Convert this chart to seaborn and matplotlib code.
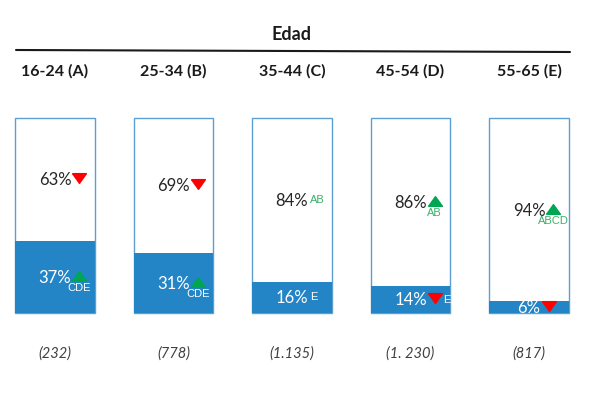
import matplotlib
matplotlib.use("Agg")
import matplotlib.pyplot as plt
import matplotlib.transforms as mtransforms
from matplotlib.lines import Line2D
import seaborn as sns

sns.set_theme(style="white")
plt.rcParams["font.family"] = ["Lato", "DejaVu Sans"]

# datos
grupos = ["16-24 (A)", "25-34 (B)", "35-44 (C)", "45-54 (D)", "55-65 (E)"]
bases = ["(232)", "(778)", "(1.135)", "(1. 230)", "(817)"]
pct_alto = [63, 69, 84, 86, 94]
pct_bajo = [37, 31, 16, 14, 6]
flechas_alto = ["down", "down", None, "up", "up"]
letras_alto = ["", "", "AB", "AB", "ABCD"]
flechas_bajo = ["up", "up", None, "down", "down"]
letras_bajo = ["CDE", "CDE", "E", "E", ""]

AZUL = "#2384c6"
BORDE = "#5d9fd3"
VERDE = "#00a651"
VERDE_TXT = "#3cb06a"
ROJO = "#ff0000"
TEXTO = "#262626"

TRI_UP = [(-1, -0.7), (1, -0.7), (0, 0.7), (-1, -0.7)]
TRI_DOWN = [(-1, 0.7), (1, 0.7), (0, -0.7), (-1, 0.7)]

fig = plt.figure(figsize=(6.13, 4.07), dpi=100)
ax = fig.add_axes([15 / 613, 94 / 407, 554 / 613, 195 / 407])

totales = [a + b for a, b in zip(pct_alto, pct_bajo)]
sns.barplot(x=grupos, y=totales, color="white", edgecolor=BORDE, linewidth=1,
            width=0.675, saturation=1, ax=ax)
sns.barplot(x=grupos, y=pct_bajo, color=AZUL, linewidth=0,
            width=0.675, saturation=1, ax=ax)
for p in ax.patches:
    p.set_clip_on(False)

ax.set_xlim(-0.3375, 4.3375)
ax.set_ylim(0, 100)
ax.axis("off")

renderer = fig.canvas.get_renderer()
inv = ax.transData.inverted()


def etiqueta(i, y, valor, color_txt, flecha, letras, color_letras):
    trans = mtransforms.offset_copy(ax.transData, fig=fig, y=-6, units="dots")
    t = ax.text(i, y, f"{valor}%", transform=trans, ha="center", va="baseline",
                fontsize=12, color=color_txt)
    bb = t.get_window_extent(renderer=renderer)
    cx, cy = ax.transData.transform((i, y))
    if flecha:
        mx, my = bb.x1 + 8, cy + 1
        ax.plot(*inv.transform((mx, my)), marker=TRI_UP if flecha == "up" else TRI_DOWN,
                ms=10, color=VERDE if flecha == "up" else ROJO, clip_on=False)
        if letras and flecha == "up":
            ax.text(*inv.transform((mx, my - 12)), letras, ha="center", va="center",
                    fontsize=8, family="Liberation Sans", color=color_letras)
        elif letras:
            ax.text(*inv.transform((mx + 8, my - 2)), letras, ha="left", va="center",
                    fontsize=8, family="Liberation Sans", color=color_letras)
    elif letras:
        ax.text(*inv.transform((bb.x1 + 2, cy)), letras, ha="left", va="center",
                fontsize=8, family="Liberation Sans", color=color_letras)


for i in range(len(grupos)):
    etiqueta(i, pct_bajo[i] + pct_alto[i] / 2, pct_alto[i], TEXTO,
             flechas_alto[i], letras_alto[i], VERDE_TXT)
    etiqueta(i, pct_bajo[i] / 2, pct_bajo[i], "white",
             flechas_bajo[i], letras_bajo[i], "white")

# encabezados y bases
mix = mtransforms.blended_transform_factory(ax.transData, fig.transFigure)
for i, g in enumerate(grupos):
    ax.text(i, 1 - 71 / 407, g, transform=mix, ha="center", va="center",
            fontsize=11.5, fontweight="bold", color="#1a1a1a")
    ax.text(i, 1 - 354 / 407, bases[i], transform=mix, ha="center", va="center",
            fontsize=10.5, fontstyle="italic", color="#404040")

ax.text(2, 1 - 35 / 407, "Edad", transform=mix, ha="center", va="center",
        fontsize=13, fontweight="bold", color="#1a1a1a")
fig.add_artist(Line2D([16 / 613, 570 / 613], [1 - 50 / 407, 1 - 52 / 407],
                      transform=fig.transFigure, color="#1a1a1a", lw=1.5))

plt.savefig("out.png", dpi=100)
plt.close()
